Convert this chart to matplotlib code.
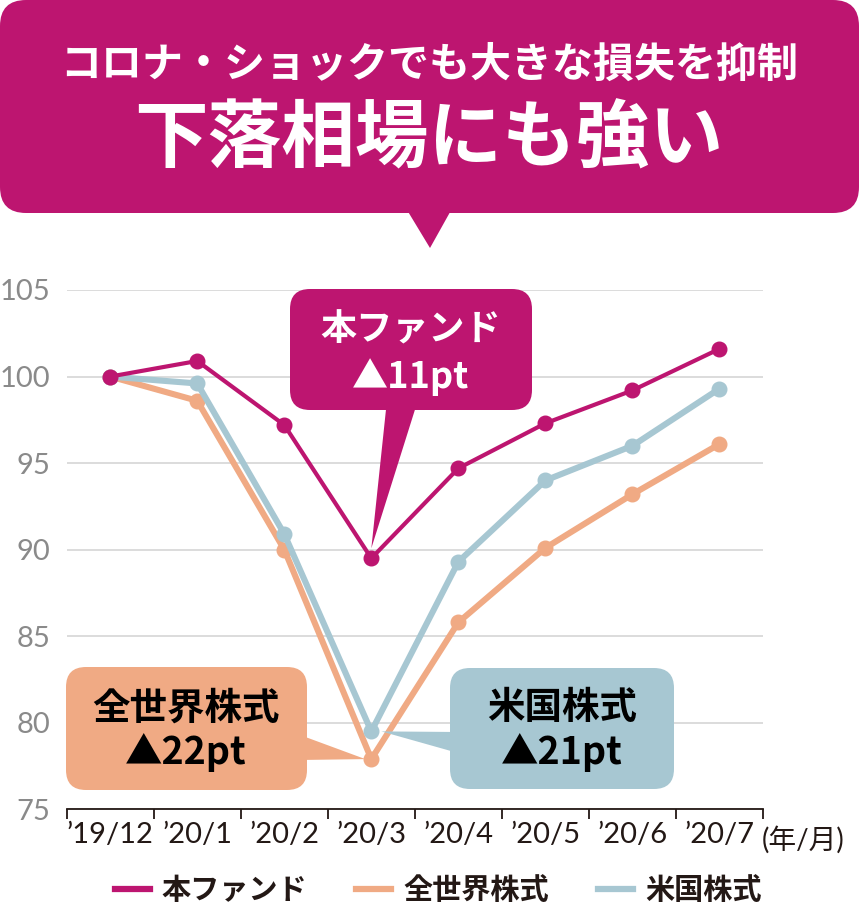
import numpy as np
import matplotlib.pyplot as plt
from matplotlib.patches import FancyBboxPatch, Polygon
from matplotlib.lines import Line2D
from matplotlib.transforms import IdentityTransform

# data (index, '19/12 = 100)
months = ["’19/12", "’20/1", "’20/2", "’20/3", "’20/4", "’20/5", "’20/6", "’20/7"]
fund = [100.0, 100.9, 97.2, 89.5, 94.7, 97.3, 99.2, 101.6]
world = [100.0, 98.6, 90.0, 77.9, 85.8, 90.1, 93.2, 96.1]
usa = [100.0, 99.6, 90.9, 79.5, 89.3, 94.0, 96.0, 99.3]
series_names = ["本ファンド", "全世界株式", "米国株式"]
drops = ["▲11pt", "▲22pt", "▲21pt"]
yticks = [75, 80, 85, 90, 95, 100, 105]

MAGENTA = "#BD1570"
ORANGE = "#F0AA84"
BLUE = "#A7C7D2"
GRID = "#d9d9d9"
GRAY = "#8a8a8a"
DARK = "#231815"
JP = ["Noto Sans CJK JP", "DejaVu Sans"]
NUM = ["Lato", "Noto Sans CJK JP", "DejaVu Sans"]

W, H = 859, 908
fig = plt.figure(figsize=(W / 100, H / 100), dpi=100)
fig.patch.set_facecolor("white")

# axes placed in pixel terms
ax = fig.add_axes([66.7 / W, 1 - 809.3 / H, (763 - 66.7) / W, (809.3 - 290) / H])
x = np.arange(len(months)) + 0.5
ax.set_xlim(0, len(months))
ax.set_ylim(75, 105)

ax.plot(x, world, color=ORANGE, lw=4.4, marker="o", ms=10.5, zorder=3, solid_joinstyle="round")
ax.plot(x, usa, color=BLUE, lw=4.4, marker="o", ms=10.5, zorder=4, solid_joinstyle="round")
ax.plot(x, fund, color=MAGENTA, lw=3, marker="o", ms=10.5, zorder=5, solid_joinstyle="round")

# y axis
ax.set_yticks(yticks)
ax.set_yticklabels([str(v) for v in yticks], family=NUM, fontsize=21, color=GRAY)
ax.tick_params(axis="y", length=0, pad=12)
ax.yaxis.grid(True, color=GRID, lw=1.3)
ax.set_axisbelow(True)
for s in ["left", "top", "right"]:
    ax.spines[s].set_visible(False)
ax.spines["bottom"].set_linewidth(1.3)
ax.spines["bottom"].set_color(DARK)

# x axis: tick marks on boundaries, labels centred on months
ax.set_xticks(np.arange(len(months) + 1))
ax.set_xticklabels([])
ax.tick_params(axis="x", which="major", length=7, width=1.3, color=DARK, direction="out")
ax.set_xticks(x, minor=True)
ax.set_xticklabels(months, minor=True, family=NUM, fontsize=21, color=DARK)
ax.tick_params(axis="x", which="minor", length=0, pad=9)
fig.text(762 / W, 1 - 840 / H, "(年/月)", family=NUM, fontsize=20, color=DARK,
         ha="left", va="center")

px = IdentityTransform()


def P(xp, yp):
    # pixel from top-left -> display coords
    return (xp, H - yp)


def data_px(xd, yd):
    dx, dy = ax.transData.transform((xd, yd))
    return dx, dy


def rbox(x0, y0, x1, y1, color, r, z):
    b = FancyBboxPatch(P(x0, y1), x1 - x0, y1 - y0,
                       boxstyle=f"round,pad=0,rounding_size={r}",
                       transform=px, fc=color, ec="none", zorder=z, clip_on=False)
    fig.add_artist(b)


def tri(pts, color, z):
    t = Polygon(pts, closed=True, transform=px, fc=color, ec="none", zorder=z, clip_on=False)
    fig.add_artist(t)


# header banner
rbox(0, 0, 859, 213, MAGENTA, 26, 1)
tri([P(404, 205), P(454, 205), P(430, 248)], MAGENTA, 1)
fig.text(429 / W, 1 - 65 / H, "コロナ・ショックでも大きな損失を抑制", family=JP,
         fontsize=29.5, weight="bold", color="white", ha="center", va="center")
fig.text(429 / W, 1 - 140 / H, "下落相場にも強い", family=JP,
         fontsize=53, weight="bold", color="white", ha="center", va="center")

# callouts
i3 = 3
tx, ty = data_px(x[i3], fund[i3])
rbox(290, 289, 532, 410, MAGENTA, 20, 2.5)
tri([P(387, 400), P(418, 400), (tx, ty + 10)], MAGENTA, 2.5)
fig.text(411 / W, 1 - 330 / H, series_names[0], family=JP, fontsize=26, weight="bold",
         color="white", ha="center", va="center", zorder=6)
fig.text(411 / W, 1 - 377 / H, drops[0], family=JP, fontsize=26, weight="bold",
         color="white", ha="center", va="center", zorder=6)

tx, ty = data_px(x[i3], world[i3])
rbox(66, 667, 307, 790, ORANGE, 20, 2.5)
tri([P(300, 735), P(300, 760), (tx - 6, ty)], ORANGE, 2.5)
fig.text(186 / W, 1 - 708 / H, series_names[1], family=JP, fontsize=27, weight="bold",
         color="black", ha="center", va="center", zorder=6)
fig.text(186 / W, 1 - 753 / H, drops[1], family=JP, fontsize=27, weight="bold",
         color="black", ha="center", va="center", zorder=6)

tx, ty = data_px(x[i3], usa[i3])
rbox(450, 668, 674, 789, BLUE, 20, 2.5)
tri([P(458, 732), P(458, 753), (tx + 10, ty)], BLUE, 2.5)
fig.text(562 / W, 1 - 708 / H, series_names[2], family=JP, fontsize=27, weight="bold",
         color="black", ha="center", va="center", zorder=6)
fig.text(562 / W, 1 - 753 / H, drops[2], family=JP, fontsize=27, weight="bold",
         color="black", ha="center", va="center", zorder=6)

# legend
handles = [Line2D([], [], color=c, lw=4.5) for c in [MAGENTA, ORANGE, BLUE]]
fig.legend(handles, series_names, loc="center", bbox_to_anchor=(438 / W, 1 - 890 / H),
           ncol=3, frameon=False, handlelength=1.2, handletextpad=0.4, columnspacing=1.7,
           prop=dict(family=JP, weight="bold", size=21), labelcolor=DARK)

fig.savefig("out.png", dpi=100)
